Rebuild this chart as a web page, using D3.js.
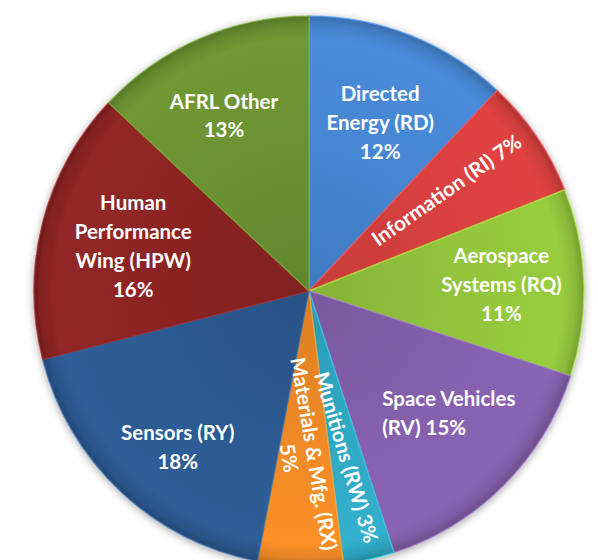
<!DOCTYPE html>
<html>
<head>
<meta charset="utf-8">
<script src="https://cdn.jsdelivr.net/npm/d3@7"></script>
<style>
  html, body { margin: 0; padding: 0; background: #ffffff; }
  svg { display: block; }
  text { font-family: Lato, "Open Sans", sans-serif; font-weight: 700; fill: #ffffff; }
</style>
</head>
<body>
<svg id="chart" width="598" height="560"></svg>
<script>
const categories = [
  "Directed Energy (RD)", "Information (RI)", "Aerospace Systems (RQ)",
  "Space Vehicles (RV)", "Munitions (RW)", "Materials & Mfg. (RX)",
  "Sensors (RY)", "Human Performance Wing (HPW)", "AFRL Other"
];
const values = [12, 7, 11, 15, 3, 5, 18, 16, 13];
const colors = ["#4686d2", "#d8403e", "#92c43c", "#8460ac", "#2fa9c4", "#f08a26", "#2c5a92", "#8c2424", "#6a9232"];
// label lines per slice
const labelLines = [
  ["Directed", "Energy (RD)", "12%"],
  ["Information (RI) 7%"],
  ["Aerospace", "Systems (RQ)", "11%"],
  ["Space Vehicles", "(RV) 15%"],
  ["Munitions (RW) 3%"],
  ["Materials & Mfg. (RX)", "5%"],
  ["Sensors (RY)", "18%"],
  ["Human", "Performance", "Wing (HPW)", "16%"],
  ["AFRL Other", "13%"]
];
// label placement: radius fraction, angle fraction within slice, rotation, anchor
const labelPos = [
  {r: 0.665, f: 0.53, rot: 0, anchor: "middle"},
  {r: 0.62, f: 0.42, rot: -35, anchor: "middle"},
  {r: 0.70, f: 0.50, rot: 0, anchor: "middle"},
  {r: 0.52, f: 0.52, rot: 0, anchor: "start", dx: -26, dy: 19},
  {r: 0.62, f: 0.50, rot: 73.5, anchor: "middle"},
  {r: 0.60, f: 0.55, rot: 80.5, anchor: "middle"},
  {r: 0.743, f: 0.45, rot: 0, anchor: "middle"},
  {r: 0.66, f: 0.50, rot: 0, anchor: "middle"},
  {r: 0.708, f: 0.447, rot: 0, anchor: "middle"}
];

const svg = d3.select("#chart");
const cx = 309, cy = 291, R = 275;
const defs = svg.append("defs");

const shadow = defs.append("filter").attr("id", "shadow")
  .attr("x", "-10%").attr("y", "-10%").attr("width", "120%").attr("height", "120%");
shadow.append("feGaussianBlur").attr("in", "SourceAlpha").attr("stdDeviation", 4);
shadow.append("feOffset").attr("dx", 0).attr("dy", 2).attr("result", "b");
shadow.append("feComponentTransfer").append("feFuncA").attr("type", "linear").attr("slope", 0.35);
const fm = shadow.append("feMerge");
fm.append("feMergeNode");
fm.append("feMergeNode").attr("in", "SourceGraphic");

colors.forEach((c, i) => {
  const g = defs.append("radialGradient").attr("id", "g" + i)
    .attr("gradientUnits", "userSpaceOnUse")
    .attr("cx", 0).attr("cy", 0).attr("r", R);
  const base = d3.color(c);
  g.append("stop").attr("offset", "0%").attr("stop-color", base.darker(0.25));
  g.append("stop").attr("offset", "55%").attr("stop-color", base);
  g.append("stop").attr("offset", "92%").attr("stop-color", base.brighter(0.12));
  g.append("stop").attr("offset", "97%").attr("stop-color", base.darker(0.15));
  g.append("stop").attr("offset", "100%").attr("stop-color", base.darker(0.6));
});

const pie = d3.pie().sort(null).value(d => d)(values);
const arc = d3.arc().innerRadius(0).outerRadius(R);

const g = svg.append("g").attr("transform", `translate(${cx},${cy})`);
const slices = g.append("g").attr("filter", "url(#shadow)");
slices.selectAll("path.slice").data(pie).join("path")
  .attr("class", "slice")
  .attr("d", arc)
  .attr("fill", (d, i) => `url(#g${i})`)
  .attr("stroke", (d, i) => d3.color(colors[i]).brighter(0.5))
  .attr("stroke-opacity", 0.7)
  .attr("stroke-width", 1.5)
  .attr("stroke-linejoin", "round");

pie.forEach((d, i) => {
  const p = labelPos[i];
  const a = d.startAngle + (d.endAngle - d.startAngle) * p.f;
  const x = Math.sin(a) * R * p.r + (p.dx || 0);
  const y = -Math.cos(a) * R * p.r + (p.dy || 0);
  const lines = labelLines[i];
  const t = g.append("text")
    .attr("transform", `translate(${x},${y}) rotate(${p.rot})`)
    .attr("text-anchor", p.anchor)
    .style("font-size", "20.5px");
  const lhh = (p.rot !== 0) ? 25 : 29;
  const off = -(lines.length - 1) * lhh / 2;
  lines.forEach((ln, k) => {
    t.append("tspan").attr("x", 0).attr("y", off + k * lhh).attr("dy", "0.35em").text(ln);
  });
});
</script>
</body>
</html>
